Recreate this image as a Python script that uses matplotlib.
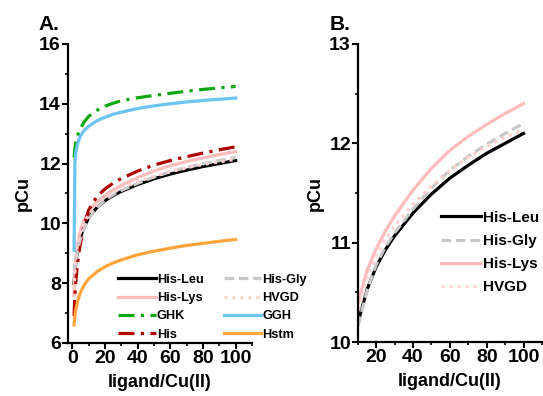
import matplotlib
matplotlib.use("Agg")
import matplotlib.pyplot as plt
from matplotlib.ticker import MultipleLocator

# ligand/Cu(II) ratio
ratio = [1, 1.5, 2, 3, 4, 5, 7, 10, 15, 20, 25, 30, 40, 50, 60, 70, 80, 90, 100]

his_leu = [8.0, 8.4, 8.7, 9.05, 9.35, 9.55, 9.85, 10.19, 10.53, 10.76, 10.93, 11.07, 11.3, 11.49, 11.65, 11.78, 11.9, 12.0, 12.1]
his_lys = [7.6, 8.4, 8.8, 9.25, 9.55, 9.78, 10.1, 10.39, 10.72, 10.94, 11.12, 11.27, 11.53, 11.75, 11.93, 12.07, 12.19, 12.3, 12.4]
ghk = [12.2, 12.5, 12.7, 12.92, 13.07, 13.18, 13.38, 13.58, 13.78, 13.92, 14.02, 14.1, 14.2, 14.28, 14.35, 14.42, 14.48, 14.53, 14.58]
his = [6.9, 7.6, 8.0, 8.6, 9.05, 9.35, 9.9, 10.45, 10.9, 11.15, 11.35, 11.5, 11.75, 11.95, 12.1, 12.23, 12.35, 12.46, 12.56]
his_gly = [8.3, 8.6, 8.8, 9.05, 9.3, 9.5, 9.82, 10.15, 10.52, 10.78, 10.96, 11.1, 11.34, 11.55, 11.73, 11.87, 11.99, 12.1, 12.2]
hvgd = [7.8, 8.4, 8.8, 9.25, 9.5, 9.72, 10.02, 10.3, 10.65, 10.88, 11.04, 11.17, 11.39, 11.57, 11.73, 11.86, 11.97, 12.06, 12.14]
ggh = [9.1, 12.0, 12.35, 12.62, 12.8, 12.93, 13.1, 13.25, 13.43, 13.55, 13.65, 13.72, 13.84, 13.93, 14.0, 14.06, 14.11, 14.15, 14.19]
hstm = [6.6, 6.9, 7.1, 7.35, 7.55, 7.7, 7.92, 8.15, 8.38, 8.55, 8.68, 8.78, 8.95, 9.07, 9.17, 9.26, 9.33, 9.4, 9.46]

series_a = [
    ("His-Leu", his_leu, "black", "-"),
    ("His-Lys", his_lys, "#ffbcbc", "-"),
    ("GHK", ghk, "#10a810", (0, (5, 2, 1, 2))),
    ("His", his, "#b00000", (0, (5, 2, 1, 2))),
    ("His-Gly", his_gly, "#c8c8c8", (0, (3, 1.5))),
    ("HVGD", hvgd, "#ffd0d0", (0, (1, 1.5))),
    ("GGH", ggh, "#6cc4f0", "-"),
    ("Hstm", hstm, "#ffa53c", "-"),
]
series_b = ["His-Leu", "His-Gly", "His-Lys", "HVGD"]

plt.rcParams["font.family"] = ["Liberation Sans", "DejaVu Sans"]
plt.rcParams["font.weight"] = "bold"
plt.rcParams["axes.labelweight"] = "bold"


def style_axes(ax):
    for side in ("top", "right"):
        ax.spines[side].set_visible(False)
    for side in ("left", "bottom"):
        ax.spines[side].set_linewidth(1.6)
    ax.tick_params(which="major", direction="out", length=4, width=1.5, labelsize=14, pad=1)
    ax.tick_params(which="minor", direction="out", length=2.5, width=1.2)
    for lab in ax.get_xticklabels() + ax.get_yticklabels():
        lab.set_fontweight("bold")


fig = plt.figure(figsize=(5.43, 3.96), dpi=100)
ax_a = fig.add_axes([0.125, 0.134, 0.339, 0.755])
ax_b = fig.add_axes([0.659, 0.136, 0.339, 0.753])

lines = {}
for name, vals, color, ls in series_a:
    ax_a.plot(ratio, vals, color=color, linestyle=ls, lw=2.3, label=name)
    lines[name] = (vals, color, ls)

ax_a.set_xlim(-2.8, 110)
ax_a.set_ylim(6, 16)
ax_a.xaxis.set_major_locator(MultipleLocator(20))
ax_a.xaxis.set_minor_locator(MultipleLocator(10))
ax_a.yaxis.set_major_locator(MultipleLocator(2))
ax_a.yaxis.set_minor_locator(MultipleLocator(1))
ax_a.set_xlabel("ligand/Cu(II)", fontsize=13, labelpad=5)
ax_a.set_ylabel("pCu", fontsize=13, labelpad=5)
style_axes(ax_a)
ax_a.legend(ncol=2, frameon=False, fontsize=9.2, loc="lower left",
            bbox_to_anchor=(0.247, -0.01), handlelength=2.9, handletextpad=0.1,
            columnspacing=1.6, labelspacing=0.5, borderaxespad=0)

for name in series_b:
    vals, color, ls = lines[name]
    ax_b.plot(ratio, vals, color=color, linestyle=ls, lw=2.3, label=name)

ax_b.set_xlim(10, 110)
ax_b.set_ylim(10, 13)
ax_b.xaxis.set_major_locator(MultipleLocator(20))
ax_b.xaxis.set_minor_locator(MultipleLocator(10))
ax_b.yaxis.set_major_locator(MultipleLocator(1))
ax_b.yaxis.set_minor_locator(MultipleLocator(0.5))
ax_b.set_xlabel("ligand/Cu(II)", fontsize=13, labelpad=5)
ax_b.set_ylabel("pCu", fontsize=13, labelpad=4)
style_axes(ax_b)
ax_b.legend(frameon=False, fontsize=11, loc="lower left",
            bbox_to_anchor=(0.42, 0.14), handlelength=2.6, handletextpad=0.1,
            labelspacing=0.6, borderaxespad=0)

fig.text(0.07, 0.925, "A.", fontsize=15, fontweight="bold")
fig.text(0.607, 0.925, "B.", fontsize=15, fontweight="bold")

fig.savefig("out.png", dpi=100)
